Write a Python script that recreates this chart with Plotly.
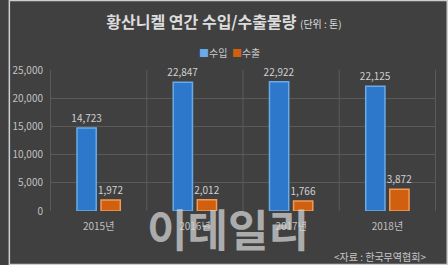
import plotly.graph_objects as go

years = ["2015년", "2016년", "2017년", "2018년"]
imports = [14723, 22847, 22922, 22125]
exports = [1972, 2012, 1766, 3872]
ytick_vals = [0, 5000, 10000, 15000, 20000, 25000]
ytick_text = ["0", "5,000", "10,000", "15,000", "20,000", "25,000"]

FONT = "Noto Sans CJK KR"
W, H = 448, 265
ML, MR, MT, MB = 42, 12, 70, 54
pw, ph = W - ML - MR, H - MT - MB
BLUE, BLUE_EDGE = "#2e78cc", "#6aaae8"
ORANGE, ORANGE_EDGE = "#d0600f", "#f29a55"

fig = go.Figure()
fig.add_trace(go.Bar(
    x=years, y=imports, name="수입",
    marker=dict(color=BLUE, line=dict(color=BLUE_EDGE, width=1.5)),
    text=[f"{v:,}" for v in imports], textposition="outside", constraintext="none",
    textfont=dict(color="#d0d0d0", size=10, family=FONT), cliponaxis=False,
))
fig.add_trace(go.Bar(
    x=years, y=exports, name="수출",
    marker=dict(color=ORANGE, line=dict(color=ORANGE_EDGE, width=1.5)),
    text=[f"{v:,}" for v in exports], textposition="outside", constraintext="none",
    textfont=dict(color="#d0d0d0", size=10, family=FONT), cliponaxis=False,
))

def px_x(p):
    return (p - ML) / pw

def px_y(p):
    return (H - MB - p) / ph

fig.update_layout(
    width=W, height=H,
    margin=dict(l=ML, r=MR, t=MT, b=MB),
    paper_bgcolor="#404040", plot_bgcolor="#404040",
    font=dict(family=FONT, color="#c8c8c8", size=10),
    barmode="group", bargap=0.5, bargroupgap=0.2,
    title=dict(
        text="<b>황산니켈 연간 수입/수출물량</b> <span style='font-size:10px'>(단위 : 톤)</span>",
        x=0.5, xref="container", xanchor="center",
        y=1 - 22 / H, yref="container", yanchor="middle",
        font=dict(family=FONT, size=16, color="#dcdcdc"),
    ),
    showlegend=False,
    xaxis=dict(
        showgrid=False, showline=False, ticks="",
        tickfont=dict(family=FONT, size=10, color="#c0c0c0"),
        ticklabelstandoff=8,
    ),
    yaxis=dict(
        range=[0, 25000], tickvals=ytick_vals, ticktext=ytick_text,
        showgrid=True, gridcolor="#5a5a5a", gridwidth=1,
        zeroline=False, showline=False, ticks="",
        tickfont=dict(family=FONT, size=10, color="#c0c0c0"),
        ticklabelstandoff=6,
    ),
)

# vertical category separators
shapes = []
for i in range(5):
    shapes.append(dict(type="line", xref="x", yref="paper", x0=i - 0.5, x1=i - 0.5,
                       y0=0, y1=1, line=dict(color="#5a5a5a", width=1), layer="below"))
# outer light border
shapes.append(dict(type="rect", xref="paper", yref="paper",
                   x0=px_x(0.5), x1=px_x(W - 0.5), y0=px_y(H - 0.5), y1=px_y(0.5),
                   line=dict(color="#cfcfcf", width=1.5)))
fig.update_layout(shapes=shapes)

# compact legend (as in the reference)
fig.add_annotation(
    text=(f"<span style='color:{BLUE_EDGE}'>■</span>수입  "
          f"<span style='color:{ORANGE}'>■</span>수출"),
    xref="paper", yref="paper", x=px_x(225), y=px_y(52),
    xanchor="center", yanchor="middle", showarrow=False,
    font=dict(family=FONT, size=10, color="#c8c8c8"),
)
fig.add_annotation(
    text="<자료 : 한국무역협회>", xref="paper", yref="paper",
    x=px_x(428), y=px_y(256), xanchor="right", yanchor="middle",
    showarrow=False, font=dict(family=FONT, size=10, color="#c8c8c8"),
)
fig.add_annotation(
    text="<b>이데일리</b>", xref="paper", yref="paper",
    x=px_x(224), y=px_y(228), xanchor="center", yanchor="middle",
    showarrow=False, font=dict(family=FONT, size=44, color="rgba(215,215,215,0.72)"),
)

fig.write_html("out.html")
